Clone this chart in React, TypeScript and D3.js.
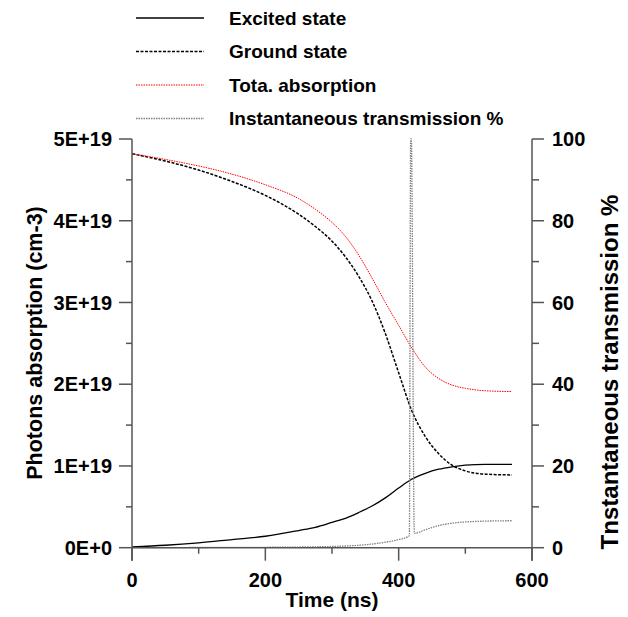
import React from "react";
import { scaleLinear, line, curveMonotoneX, range } from "d3";

// Datos
const timeNs = [0, 50, 100, 150, 200, 250, 275, 300, 320, 340, 360, 380, 400, 420, 440, 460, 480, 500, 530, 570];
const excited = [0.01, 0.03, 0.06, 0.1, 0.14, 0.21, 0.25, 0.31, 0.36, 0.43, 0.51, 0.61, 0.73, 0.84, 0.91, 0.96, 0.99, 1.01, 1.02, 1.02];
const ground = [4.82, 4.73, 4.62, 4.48, 4.31, 4.08, 3.93, 3.75, 3.56, 3.32, 3.02, 2.62, 2.14, 1.67, 1.36, 1.15, 1.01, 0.94, 0.9, 0.89];
const total = [4.82, 4.75, 4.67, 4.57, 4.44, 4.27, 4.14, 3.98, 3.81, 3.58, 3.3, 3.0, 2.72, 2.44, 2.21, 2.07, 1.99, 1.95, 1.92, 1.91];

const transTime = [0, 100, 200, 300, 370, 400, 414, 416, 418, 419, 423.5, 440, 460, 480, 500, 530, 570];
const transmission = [0, 0.05, 0.1, 0.3, 1.1, 2.0, 2.7, 3.0, 100, 100, 3.5, 4.4, 5.4, 6.0, 6.3, 6.5, 6.6];

const leftTicks = ["0E+0", "1E+19", "2E+19", "3E+19", "4E+19", "5E+19"];
const rightTicks = [0, 20, 40, 60, 80, 100];
const xTicks = [0, 200, 400, 600];

const legend = [
  { label: "Excited state", color: "#000", dash: "none", width: 1.3 },
  { label: "Ground state", color: "#000", dash: "3,1.5", width: 1.5 },
  { label: "Tota. absorption", color: "#ff0000", dash: "1.5,1", width: 1 },
  { label: "Instantaneous transmission %", color: "#808080", dash: "1.5,1", width: 1.3 },
];

const font = "'Liberation Sans', Arial, sans-serif";
const axisColor = "#555";

const App: React.FC = () => {
  const x = scaleLinear().domain([0, 600]).range([132, 532]);
  const yL = scaleLinear().domain([0, 5]).range([547.7, 139]);
  const yR = scaleLinear().domain([0, 100]).range([547.7, 139]);

  const mk = (ys: number[], yScale: (v: number) => number, ts: number[]) =>
    line<number>()
      .x((_, i) => x(ts[i]))
      .y((d) => yScale(d))
      .curve(curveMonotoneX)(ys) ?? "";

  const series = [
    { d: mk(excited, yL, timeNs), ...legend[0] },
    { d: mk(ground, yL, timeNs), ...legend[1] },
    { d: mk(total, yL, timeNs), ...legend[2] },
    { d: mk(transmission, yR, transTime), ...legend[3] },
  ];

  const y0 = yL(0);

  return (
    <svg
      width={628}
      height={617}
      style={{ position: "absolute", left: 0, top: 0, background: "#fff" }}
      fontFamily={font}
      fontWeight="bold"
    >
      {/* Leyenda */}
      {legend.map((l, i) => (
        <g key={i} transform={`translate(0,${18 + i * 33.5})`}>
          <line x1={136} x2={204} y1={0} y2={0} stroke={l.color} strokeWidth={l.width} strokeDasharray={l.dash} />
          <text x={229} y={6.5} fontSize={19} fill="#000">
            {l.label}
          </text>
        </g>
      ))}

      {/* Curvas */}
      {series.map((s, i) => (
        <path key={i} d={s.d} fill="none" stroke={s.color} strokeWidth={s.width} strokeDasharray={s.dash} />
      ))}

      {/* Ejes */}
      <g stroke={axisColor} strokeWidth={1.5}>
        <line x1={x(0)} x2={x(0)} y1={yL(5)} y2={y0 + 13} />
        <line x1={x(600)} x2={x(600)} y1={yL(5)} y2={y0 + 13} />
        <line x1={x(0)} x2={x(600)} y1={y0} y2={y0} />
        {range(0, 5.01, 0.5).map((v, i) => (
          <line key={`l${i}`} x1={x(0) - (i % 2 === 0 ? 13 : 6)} x2={x(0)} y1={yL(v)} y2={yL(v)} />
        ))}
        {range(0, 100.1, 10).map((v, i) => (
          <line key={`r${i}`} x1={x(600)} x2={x(600) + (i % 2 === 0 ? 12 : 7)} y1={yR(v)} y2={yR(v)} />
        ))}
        {range(0, 600.1, 100).map((v, i) => (
          <line key={`b${i}`} x1={x(v)} x2={x(v)} y1={y0} y2={y0 + (i % 2 === 0 ? 13 : 6)} />
        ))}
      </g>

      {/* Etiquetas */}
      <g fontSize={20} fill="#000">
        {leftTicks.map((t, i) => (
          <text key={t} x={112} y={yL(i)} dy="0.36em" textAnchor="end">
            {t}
          </text>
        ))}
        {rightTicks.map((t) => (
          <text key={t} x={552} y={yR(t)} dy="0.36em">
            {t}
          </text>
        ))}
        {xTicks.map((t) => (
          <text key={t} x={x(t)} y={587} textAnchor="middle">
            {t}
          </text>
        ))}
      </g>

      <text x={332} y={607} textAnchor="middle" fontSize={21}>
        Time (ns)
      </text>
      <text transform={`translate(42,343) rotate(-90)`} textAnchor="middle" fontSize={21.5}>
        Photons absorption (cm-3)
      </text>
      <text transform={`translate(618,372) rotate(-90)`} textAnchor="middle" fontSize={24}>
        Tnstantaneous transmission %
      </text>
    </svg>
  );
};

export default App;
